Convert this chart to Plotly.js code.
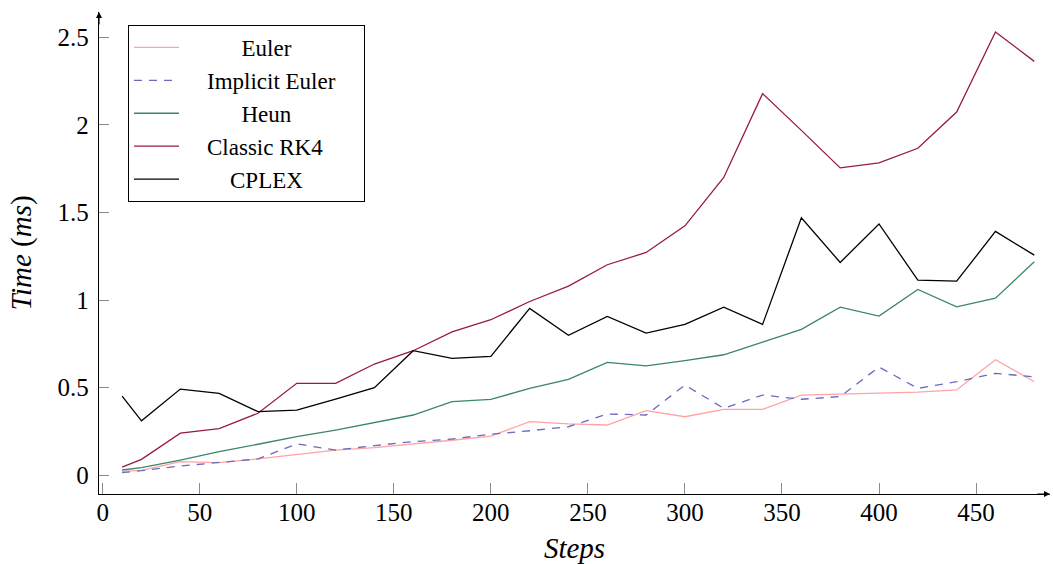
<!DOCTYPE html>
<html><head><meta charset="utf-8">
<script src="https://cdn.plot.ly/plotly-3.0.1.min.js"></script>
<style>html,body{margin:0;padding:0;background:#fff}#chart{width:1053px;height:564px}</style>
</head><body><div id="chart"></div>
<script>
const steps = [10, 20, 40, 60, 80, 100, 120, 140, 160, 180, 200, 220, 240, 260, 280, 300, 320, 340, 360, 380, 400, 420, 440, 460, 480];
const euler = [0.022, 0.028, 0.078, 0.072, 0.093, 0.120, 0.144, 0.158, 0.177, 0.200, 0.224, 0.306, 0.293, 0.287, 0.369, 0.334, 0.376, 0.376, 0.458, 0.464, 0.471, 0.475, 0.487, 0.660, 0.534];
const implicitEuler = [0.015, 0.026, 0.053, 0.072, 0.093, 0.179, 0.144, 0.169, 0.192, 0.207, 0.234, 0.254, 0.277, 0.350, 0.344, 0.515, 0.382, 0.458, 0.434, 0.449, 0.618, 0.496, 0.534, 0.582, 0.562];
const heun = [0.030, 0.043, 0.087, 0.135, 0.177, 0.220, 0.258, 0.300, 0.344, 0.420, 0.433, 0.496, 0.548, 0.645, 0.625, 0.654, 0.688, 0.760, 0.833, 0.960, 0.909, 1.061, 0.962, 1.011, 1.219];
const classicRK4 = [0.046, 0.091, 0.240, 0.266, 0.354, 0.525, 0.525, 0.635, 0.711, 0.819, 0.888, 0.992, 1.080, 1.202, 1.272, 1.424, 1.700, 2.179, 1.969, 1.755, 1.783, 1.867, 2.074, 2.531, 2.363];
const cplex = [0.452, 0.311, 0.492, 0.468, 0.363, 0.372, 0.435, 0.500, 0.711, 0.667, 0.679, 0.953, 0.799, 0.907, 0.812, 0.861, 0.960, 0.861, 1.470, 1.215, 1.435, 1.114, 1.108, 1.392, 1.257];

const seriesNames = ['Euler', 'Implicit Euler', 'Heun', 'Classic RK4', 'CPLEX'];
const xTicks = [0, 50, 100, 150, 200, 250, 300, 350, 400, 450];
const yTicks = [0, 0.5, 1, 1.5, 2, 2.5];
const yTickText = ['0', '0.5', '1', '1.5', '2', '2.5'];

const NB = '\u00A0';
const pad = (n) => NB.repeat(n);
const legendPad = [[10, 0], [4, 4], [10, 0], [4, 0], [8, 0]];

const seriesValues = [euler, implicitEuler, heun, classicRK4, cplex];
const seriesColors = ['#ffa3a3', '#6a6ac0', '#3b8762', '#961a47', '#000000'];
const seriesDash = ['solid', '8px,7px', 'solid', 'solid', 'solid'];

const traces = seriesNames.map((name, i) => ({
  type: 'scatter',
  mode: 'lines',
  x: steps,
  y: seriesValues[i],
  name: pad(legendPad[i][0]) + name + pad(legendPad[i][1]),
  line: {color: seriesColors[i], width: 1.3, dash: seriesDash[i]}
}));

const fontFam = 'Liberation Serif, Times New Roman, serif';
const layout = {
  width: 1053, height: 564,
  margin: {l: 99, r: 3, t: 12, b: 70},
  paper_bgcolor: '#ffffff', plot_bgcolor: '#ffffff',
  font: {family: fontFam, size: 25, color: '#000'},
  showlegend: true,
  legend: {
    x: 0.0305, y: 0.973, xanchor: 'left', yanchor: 'top',
    bordercolor: '#000', borderwidth: 1, bgcolor: '#fff',
    font: {family: fontFam, size: 23, color: '#000'},
    tracegroupgap: 0, itemwidth: 45
  },
  xaxis: {
    range: [-1.9, 488.1],
    tickmode: 'array', tickvals: xTicks, ticktext: xTicks.map(String),
    ticks: 'inside', ticklen: 11, tickwidth: 1, tickcolor: '#8a8a8a',
    showline: true, linecolor: '#000', linewidth: 1.2,
    showgrid: false, zeroline: false,
    ticklabelstandoff: -4,
    title: {text: '<i>Steps</i>', font: {family: fontFam, size: 29}}
  },
  yaxis: {
    range: [-0.107, 2.645],
    tickmode: 'array', tickvals: yTicks, ticktext: yTickText,
    ticks: 'inside', ticklen: 10, tickwidth: 1, tickcolor: '#8a8a8a',
    showline: true, linecolor: '#000', linewidth: 1.2,
    showgrid: false, zeroline: false,
    ticklabelstandoff: 4,
    title: {text: '<i>Time</i> (<i>ms</i>)', font: {family: fontFam, size: 29}}
  },
  annotations: [
    {xref: 'paper', yref: 'paper', x: 1, y: 0, ax: -14, ay: 0, text: '', showarrow: true,
     arrowhead: 2, arrowsize: 1, arrowwidth: 1.2, arrowcolor: '#000'},
    {xref: 'paper', yref: 'paper', x: 0, y: 1, ax: 0, ay: 14, text: '', showarrow: true,
     arrowhead: 2, arrowsize: 1, arrowwidth: 1.2, arrowcolor: '#000'}
  ]
};

Plotly.newPlot('chart', traces, layout, {displayModeBar: false, staticPlot: true});
</script>
</body></html>
